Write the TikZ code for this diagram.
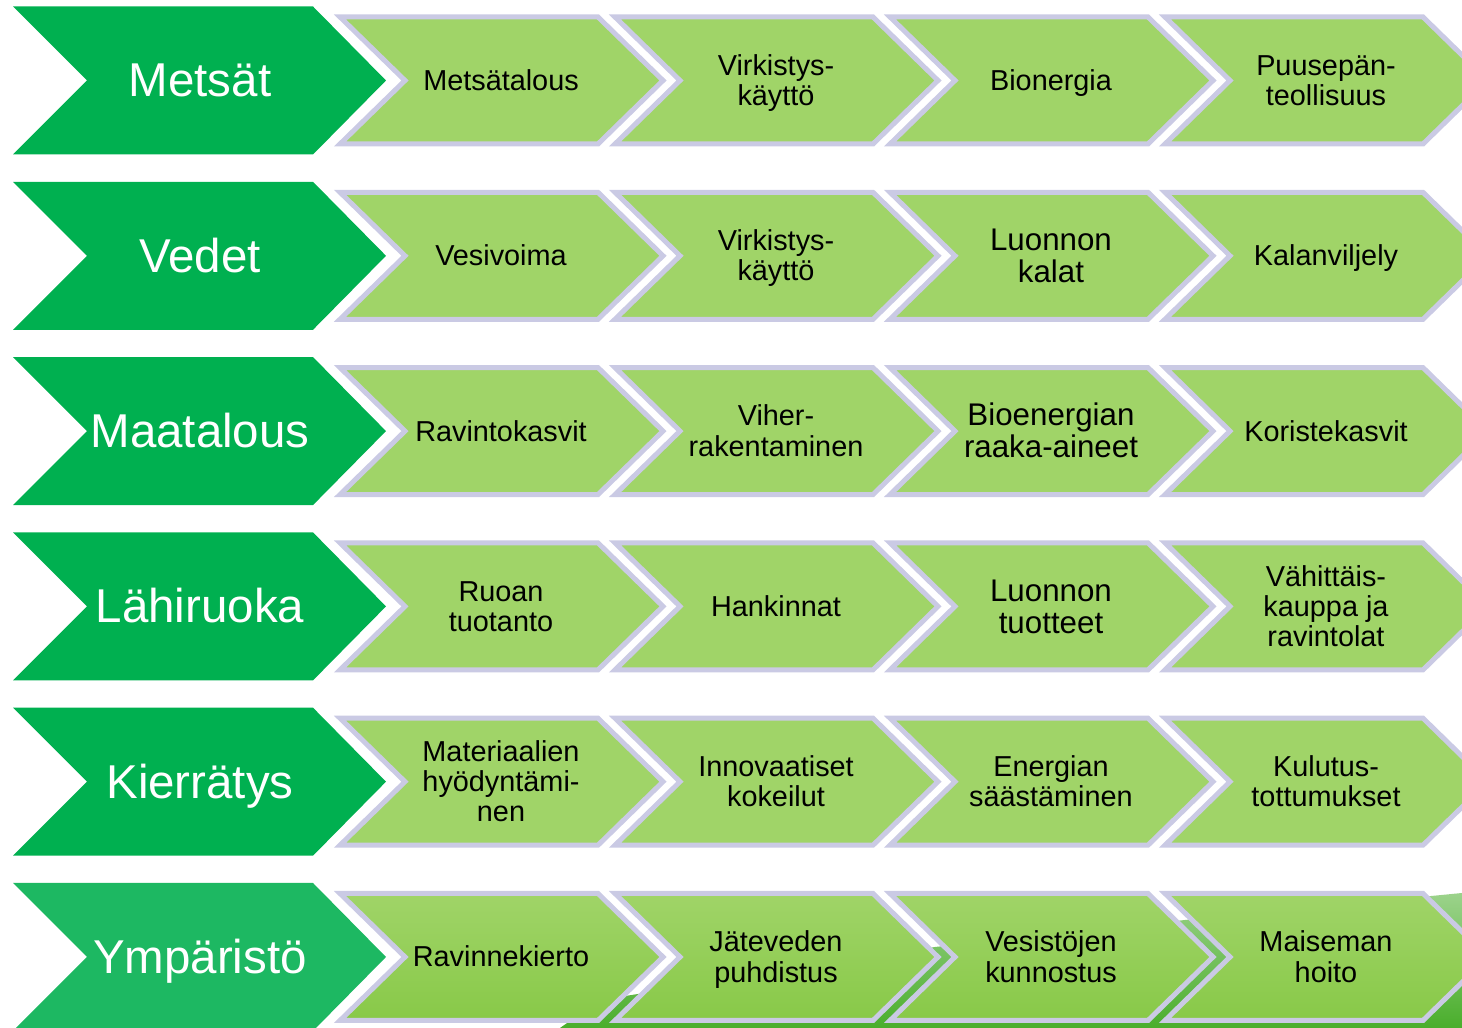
\documentclass[tikz,border=0pt]{standalone}
\usepackage{fontspec}
\setmainfont{Liberation Sans}
\newcommand*{\darkfont}{\fontsize{13.5}{14}\selectfont}
\newcommand*{\lightfont}{\fontsize{8.2}{8.6}\selectfont}
\newcommand*{\largefont}{\fontsize{8.9}{9.1}\selectfont}
\newcommand*{\topstrut}{\vrule height 0.905em depth 0pt width 0pt}
\newcommand*{\botstrut}{\vrule height 0pt depth 0.212em width 0pt}
\definecolor{darkgreen}{HTML}{00B050}
\definecolor{lowgreen}{HTML}{1DB862}
\definecolor{leaf}{HTML}{A0D468}
\definecolor{leafdark}{HTML}{88C948}
\definecolor{lavender}{HTML}{CACAE4}
\definecolor{grass}{HTML}{4AAE2C}
\usepackage{tikz}
\tikzstyle{base}=[x=0.01cm, y=-0.01cm, inner sep=0pt, outer sep=0pt]
\tikzstyle{lightfill}=[fill=leaf]
\tikzstyle{chevron}=[draw=lavender, line width=0.05cm, line join=miter, lightfill]
\tikzstyle{darklabel}=[white, font=\darkfont]
\tikzstyle{lightlabel}=[black, align=center, font=\lightfont]
\tikzstyle{largelabel}=[font=\largefont]
% #1 colour, #2 name, #3 centre y, #4 text
\newcommand*{\darkchevron}[4][darkgreen]{%
    \fill [#1] (13,#3-74) -- (313,#3-74) -- (386,#3) -- (313,#3+74) -- (13,#3+74) -- (87,#3) -- cycle;
    \node [darklabel] (#2) at (200,#3) {\topstrut#4\botstrut};}
% #1 label style, #2 name, #3 left x, #4 centre y, #5 text
\newcommand*{\lightchevron}[5][]{%
    \draw [chevron] (#3,#4-63.5) -- ++(258,0) -- ++(65,63.5) -- ++(-65,63.5) -- ++(-258,0) -- ++(65,-63.5) -- cycle;
    \node [lightlabel, #1] (#2) at (#3+161,#4) {\topstrut#5\botstrut};}

\begin{document}
\begin{tikzpicture}[base]
    \path [use as bounding box] (0,0) rectangle (1462,1028);
    \clip (0,0) rectangle (1462,1028);
    \shade [top color=grass!55!white, bottom color=grass] (560,1028) -- (600,1000) -- (935,947) -- (1185,920) -- (1462,893) -- (1462,1028) -- cycle;

        \darkchevron{metsat}{80.5}{Metsät}
        \lightchevron{metsat1}{340}{80.5}{Metsätalous}
        \lightchevron{metsat2}{615}{80.5}{Virkistys-\\käyttö}
        \lightchevron{metsat3}{890}{80.5}{Bionergia}
        \lightchevron{metsat4}{1165}{80.5}{Puusepän-\\teollisuus}

        \darkchevron{vedet}{255.8}{Vedet}
        \lightchevron{vedet1}{340}{255.8}{Vesivoima}
        \lightchevron{vedet2}{615}{255.8}{Virkistys-\\käyttö}
        \lightchevron[largelabel]{vedet3}{890}{255.8}{Luonnon\\kalat}
        \lightchevron{vedet4}{1165}{255.8}{Kalanviljely}

        \darkchevron{maatalous}{431.1}{Maatalous}
        \lightchevron{maatalous1}{340}{431.1}{Ravintokasvit}
        \lightchevron{maatalous2}{615}{431.1}{Viher-\\rakentaminen}
        \lightchevron[largelabel]{maatalous3}{890}{431.1}{Bioenergian\\raaka-aineet}
        \lightchevron{maatalous4}{1165}{431.1}{Koristekasvit}

        \darkchevron{lahiruoka}{606.4}{Lähiruoka}
        \lightchevron{lahiruoka1}{340}{606.4}{Ruoan\\tuotanto}
        \lightchevron{lahiruoka2}{615}{606.4}{Hankinnat}
        \lightchevron[largelabel]{lahiruoka3}{890}{606.4}{Luonnon\\tuotteet}
        \lightchevron{lahiruoka4}{1165}{606.4}{Vähittäis-\\kauppa ja\\ravintolat}

        \darkchevron{kierratys}{781.7}{Kierrätys}
        \lightchevron{kierratys1}{340}{781.7}{Materiaalien\\hyödyntämi-\\nen}
        \lightchevron{kierratys2}{615}{781.7}{Innovaatiset\\kokeilut}
        \lightchevron{kierratys3}{890}{781.7}{Energian\\säästäminen}
        \lightchevron{kierratys4}{1165}{781.7}{Kulutus-\\tottumukset}

    \begin{scope}[lightfill/.style={top color=leaf, bottom color=leafdark}]
        \darkchevron[lowgreen]{ymparisto}{957}{Ympäristö}
        \lightchevron{ymparisto1}{340}{957}{Ravinnekierto}
        \lightchevron{ymparisto2}{615}{957}{Jäteveden\\puhdistus}
        \lightchevron{ymparisto3}{890}{957}{Vesistöjen\\kunnostus}
        \lightchevron{ymparisto4}{1165}{957}{Maiseman\\hoito}
    \end{scope}
\end{tikzpicture}
\end{document}
